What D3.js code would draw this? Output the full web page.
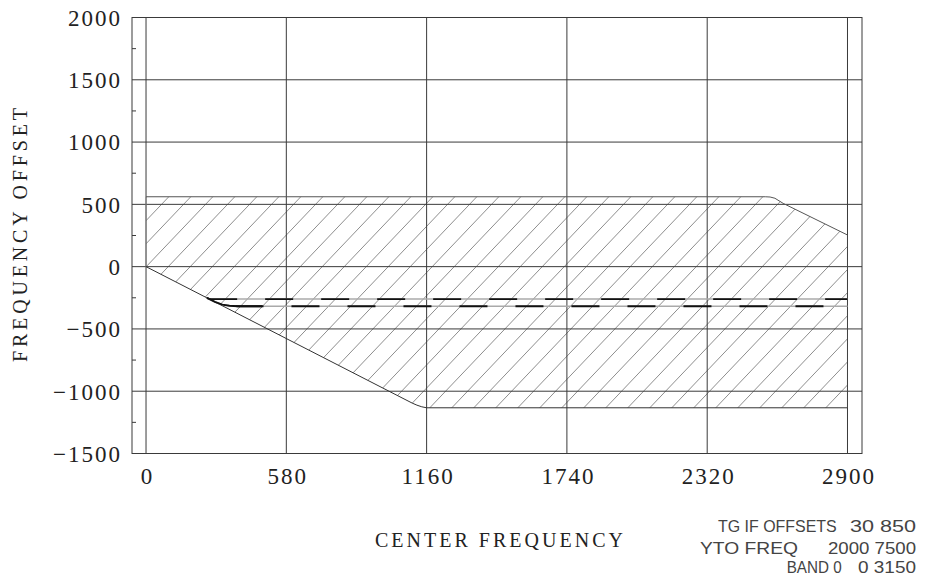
<!DOCTYPE html>
<html>
<head>
<meta charset="utf-8">
<script src="https://cdn.jsdelivr.net/npm/d3@7"></script>
<style>
  html, body { margin: 0; padding: 0; background: #fff; }
  svg { display: block; }
</style>
</head>
<body>
<div id="chart"></div>
<script>
// ---------------- data ----------------
const xTicks = [0, 580, 1160, 1740, 2320, 2900];
const yTicks = [-1500, -1000, -500, 0, 500, 1000, 1500, 2000];
const yMinorTicks = [-1250, -750, -250, 250, 750, 1250, 1750];

// upper edge of the hatched region (center frequency, offset)
const upperEdge = [[0, 561], [2560, 561], [2580, 559], [2600, 549], [2634, 508], [2900, 254]];
// lower edge of the hatched region
const lowerEdge = [[0, 0], [1100, -1095], [1120, -1112], [1140, -1125], [1160, -1133], [2900, -1133]];
// two horizontal trace lines
const traceUpper = [[261, -260], [2900, -260]];
const traceLower = [[252, -251], [285, -283], [315, -304], [345, -314], [380, -318], [2900, -318]];
const traceLowerLead = [[252, -251], [285, -283], [315, -304], [345, -314], [380, -318], [480, -318]];

const xTitle = "CENTER FREQUENCY";
const yTitle = "FREQUENCY OFFSET";
const infoLabels = ["TG IF OFFSETS", "YTO FREQ", "BAND 0"];
const infoValues = ["30 850", "2000 7500", "0 3150"];

// ---------------- layout ----------------
const W = 932, H = 577;
const svg = d3.select("#chart").append("svg").attr("width", W).attr("height", H);

const x = d3.scaleLinear().domain([-58, 2960]).range([132, 862]);
const y = d3.scaleLinear().domain([-1500, 2000]).range([453.5, 17.5]);

const X0 = x.range()[0], X1 = x.range()[1];
const Y0 = y.range()[1], Y1 = y.range()[0];

const ink = "#3a3a3a";

// ---------------- hatched region ----------------
const polygon = [[0, 0], ...upperEdge, ...lowerEdge.slice().reverse()];
const areaPath = d3.line().x(d => x(d[0])).y(d => y(d[1]))(polygon) + "Z";

svg.append("clipPath").attr("id", "hatchClip")
  .append("path").attr("d", areaPath);

const hatchG = svg.append("g").attr("clip-path", "url(#hatchClip)");
const slope = 1.05, spacing = 22, refY = 200, refX = 231.7;
const hatchXs = d3.range(-40, 60).map(k => refX + k * spacing);
hatchG.selectAll("line").data(hatchXs).join("line")
  .attr("x1", d => d + (refY - Y1) / slope).attr("y1", Y1)
  .attr("x2", d => d + (refY - Y0) / slope).attr("y2", Y0)
  .attr("stroke", "#808080").attr("stroke-width", 0.9);

// ---------------- grid ----------------
const grid = svg.append("g");
grid.selectAll("line.v").data(xTicks).join("line").attr("class", "v")
  .attr("x1", d => x(d)).attr("x2", d => x(d)).attr("y1", Y0).attr("y2", Y1)
  .attr("stroke", ink).attr("stroke-width", 1);
grid.selectAll("line.h").data(yTicks).join("line").attr("class", "h")
  .attr("x1", X0).attr("x2", X1).attr("y1", d => y(d)).attr("y2", d => y(d))
  .attr("stroke", ink).attr("stroke-width", 1);
grid.selectAll("line.m").data(yMinorTicks).join("line").attr("class", "m")
  .attr("x1", X0).attr("x2", X0 + 4).attr("y1", d => y(d)).attr("y2", d => y(d))
  .attr("stroke", ink).attr("stroke-width", 1);

// frame
svg.append("rect").attr("x", X0).attr("y", Y0).attr("width", X1 - X0).attr("height", Y1 - Y0)
  .attr("fill", "none").attr("stroke", ink).attr("stroke-width", 1);

// ---------------- region edges ----------------
const line = d3.line().x(d => x(d[0])).y(d => y(d[1]));
svg.append("path").attr("d", line(upperEdge)).attr("fill", "none")
  .attr("stroke", "#555").attr("stroke-width", 1);
svg.append("path").attr("d", line([[0, 0], [0, 561]])).attr("fill", "none")
  .attr("stroke", "#888").attr("stroke-width", 1);
svg.append("path").attr("d", line(lowerEdge)).attr("fill", "none")
  .attr("stroke", "#333").attr("stroke-width", 1);
svg.append("path").attr("d", line([[2900, 254], [2900, -1133]])).attr("fill", "none")
  .attr("stroke", "#444").attr("stroke-width", 1);

// ---------------- trace lines ----------------
[traceUpper, traceLower].forEach(t => {
  svg.append("path").attr("d", line(t)).attr("fill", "none")
    .attr("stroke", "#aaa").attr("stroke-width", 1.6);
});
svg.append("path").attr("d", line(traceUpper)).attr("fill", "none")
  .attr("stroke", "#111").attr("stroke-width", 1.8)
  .attr("stroke-dasharray", "28 28").attr("stroke-dashoffset", 0);
svg.append("path").attr("d", line(traceLower)).attr("fill", "none")
  .attr("stroke", "#111").attr("stroke-width", 1.8)
  .attr("stroke-dasharray", "28 28").attr("stroke-dashoffset", 26);
svg.append("path").attr("d", line(traceLowerLead)).attr("fill", "none")
  .attr("stroke", "#111").attr("stroke-width", 1.8);

// ---------------- axes labels ----------------
const serif = "'Liberation Serif', 'Times New Roman', serif";
const fmt = d => d < 0 ? "\u2212" + Math.abs(d) : String(d);

const yAxis = svg.append("g").attr("transform", `translate(${X0},0)`)
  .call(d3.axisLeft(y).tickValues(yTicks).tickSize(0).tickPadding(10).tickFormat(fmt));
yAxis.select(".domain").remove();
yAxis.selectAll("text")
  .attr("dy", "0.34em")
  .style("font-family", serif).style("font-size", "23px").style("letter-spacing", "2px")
  .attr("fill", "#222");

const xAxis = svg.append("g").attr("transform", `translate(0,${Y1})`)
  .call(d3.axisBottom(x).tickValues(xTicks).tickSize(0).tickPadding(0).tickFormat(fmt));
xAxis.select(".domain").remove();
xAxis.selectAll("text")
  .attr("y", 30).attr("dy", null).attr("dx", "1px")
  .style("font-family", serif).style("font-size", "23px").style("letter-spacing", "2px")
  .attr("fill", "#222");

// titles
svg.append("text").attr("x", 499).attr("y", 547).attr("text-anchor", "middle")
  .attr("textLength", 248).attr("lengthAdjust", "spacing")
  .style("font-family", serif).style("font-size", "20px").attr("fill", "#222")
  .text(xTitle);
svg.append("text").attr("transform", "translate(27,235) rotate(-90)").attr("text-anchor", "middle")
  .attr("textLength", 254).attr("lengthAdjust", "spacing")
  .style("font-family", serif).style("font-size", "20px").attr("fill", "#222")
  .text(yTitle);

// ---------------- info block ----------------
const sans = "'Liberation Sans', Arial, sans-serif";
const infoLabelX = [718, 700, 786.7];
const infoLabelW = [118.7, 98, 55];
const infoValueW = [66, 88, 58];
const infoBase = [532, 554, 573];
const info = svg.append("g").style("font-family", sans).style("font-size", "17px").attr("fill", "#444");
infoLabels.forEach((s, i) => {
  info.append("text").attr("x", infoLabelX[i]).attr("y", infoBase[i])
    .attr("textLength", infoLabelW[i]).attr("lengthAdjust", "spacingAndGlyphs").text(s);
  info.append("text").attr("x", 916 - infoValueW[i]).attr("y", infoBase[i])
    .attr("textLength", infoValueW[i]).attr("lengthAdjust", "spacingAndGlyphs").text(infoValues[i]);
});
</script>
</body>
</html>
